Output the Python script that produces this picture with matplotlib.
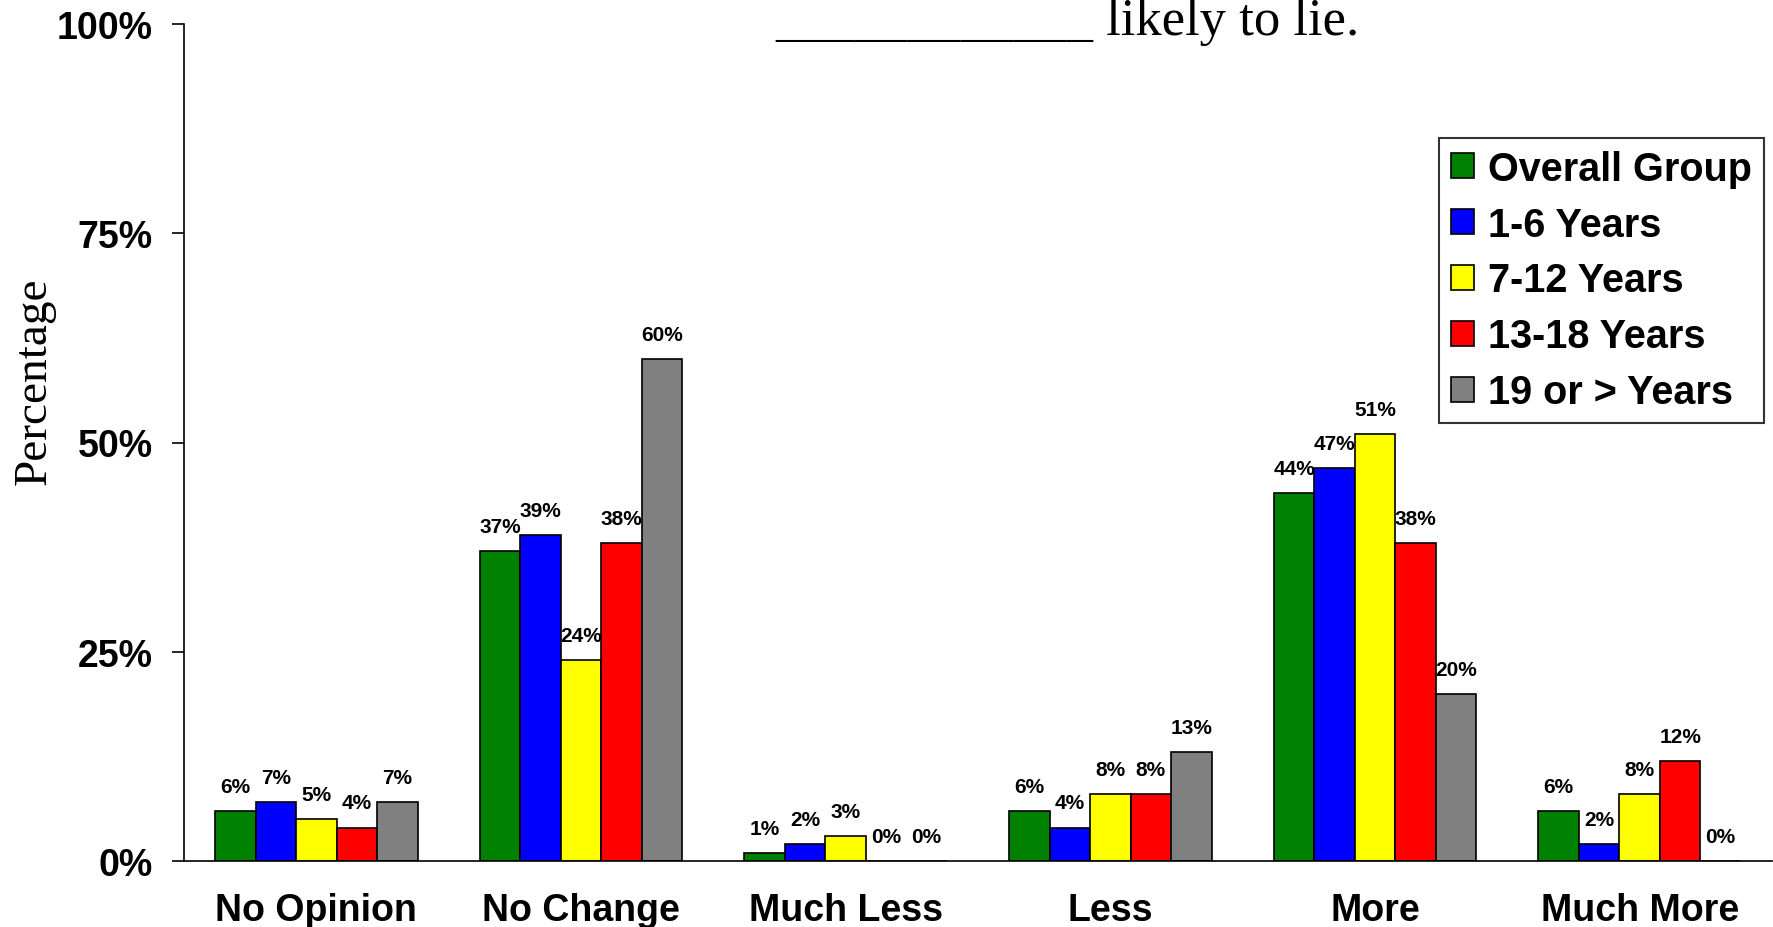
import numpy as np
import matplotlib.pyplot as plt
from matplotlib.patches import Patch

categories = ['No Opinion', 'No Change', 'Much Less', 'Less', 'More', 'Much More']
groups = ['Overall Group', '1-6 Years', '7-12 Years', '13-18 Years', '19 or > Years']
colors = ['#008000', '#0000FF', '#FFFF00', '#FF0000', '#808080']

overall = [6, 37, 1, 6, 44, 6]
years_1_6 = [7, 39, 2, 4, 47, 2]
years_7_12 = [5, 24, 3, 8, 51, 8]
years_13_18 = [4, 38, 0, 8, 38, 12]
years_19_up = [7, 60, 0, 13, 20, 0]

yticks = [0, 25, 50, 75, 100]
ytick_labels = ['0%', '25%', '50%', '75%', '100%']

SANS = 'Liberation Sans'
SERIF = 'Liberation Serif'

def main():
    series = [overall, years_1_6, years_7_12, years_13_18, years_19_up]
    fig = plt.figure(figsize=(17.73, 9.28), dpi=100)
    ax = fig.add_axes([184/1773, 66/928, (1772-184)/1773, (862-25)/928])

    x = np.arange(len(categories))
    w = 0.153
    for i, vals in enumerate(series):
        pos = x + (i - 2) * w
        ax.bar(pos, vals, width=w, color=colors[i], edgecolor='black',
               linewidth=1.2, label=groups[i], zorder=2)
        for p, v in zip(pos, vals):
            ax.annotate(f'{v}%', (p, v), xytext=(0, 13.7), textcoords='offset points',
                        ha='center', va='baseline', fontsize=15,
                        fontweight='bold', family=SANS)

    ax.set_xlim(-0.5, 5.5)
    ax.set_ylim(0, 100)
    ax.set_yticks(yticks)
    ax.set_yticklabels(ytick_labels, fontsize=27, fontweight='bold', family=SANS)
    ax.set_xticks(x)
    ax.set_xticklabels(categories, fontsize=27, fontweight='bold', family=SANS)
    ax.tick_params(axis='y', direction='out', length=8.6, width=1.2, pad=14)
    ax.tick_params(axis='x', length=0, pad=22.5)
    for s in ['top', 'right']:
        ax.spines[s].set_visible(False)
    for s in ['left', 'bottom']:
        ax.spines[s].set_linewidth(1.2)

    fig.text(34/1773, 1 - 381/928, 'Percentage', rotation=90, ha='center', va='center',
             fontsize=34, family=SERIF)
    # title is partly cut off at the top, as in the original slide
    fig.text(775/1773, 1 - 35/928, '____________ likely to lie.', ha='left', va='baseline',
             fontsize=38, family=SERIF)

    handles = [Patch(facecolor=c, edgecolor='black', linewidth=1.2) for c in colors]
    leg = fig.legend(handles, groups, loc='upper right',
                     bbox_to_anchor=(1764/1773, 1 - 139/928),
                     prop={'family': SANS, 'weight': 'bold', 'size': 28.5},
                     frameon=True, fancybox=False, edgecolor='black',
                     handlelength=0.6, handleheight=0.6, handletextpad=0.35,
                     labelspacing=0.45, borderpad=0.3, borderaxespad=0)
    leg.get_frame().set_linewidth(1.5)

    fig.savefig('out.png', dpi=100, facecolor='white')

if __name__ == '__main__':
    main()
